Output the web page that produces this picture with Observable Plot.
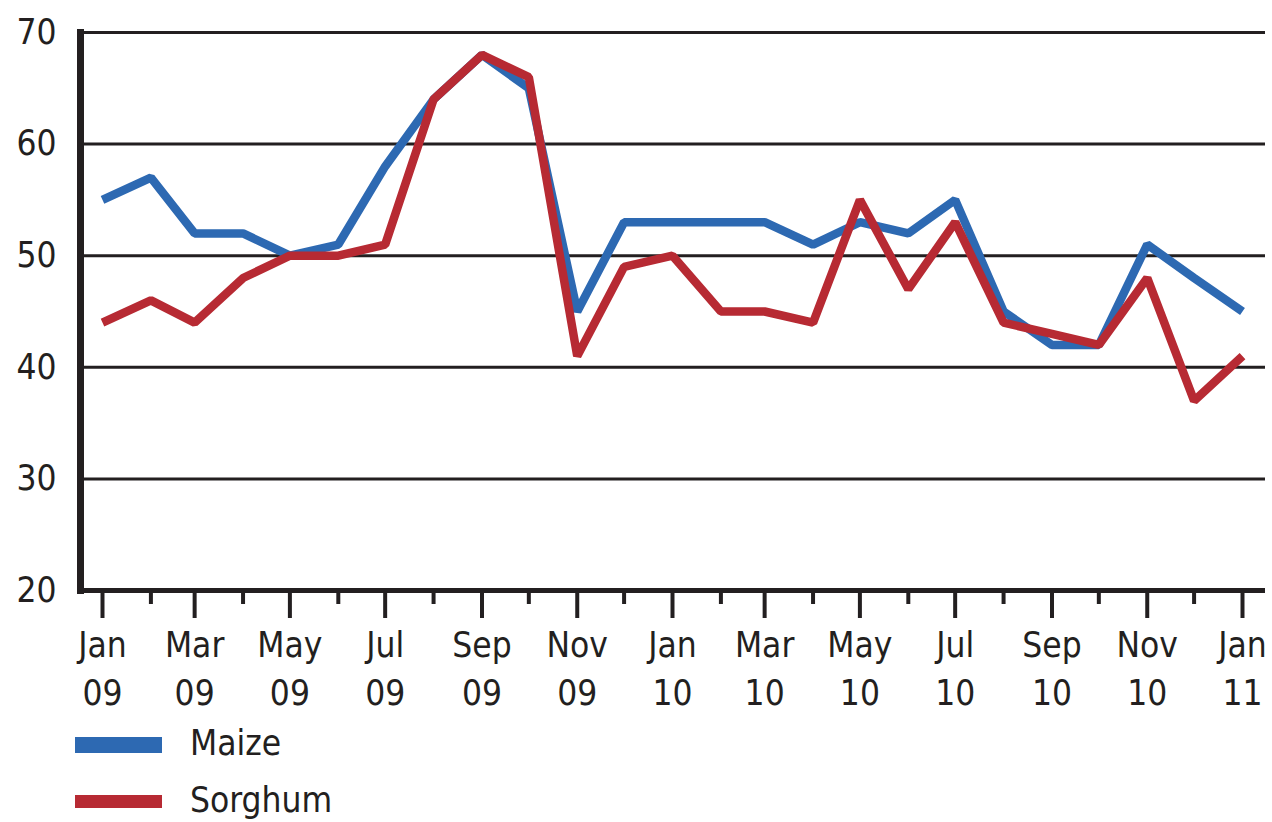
<!DOCTYPE html>
<html>
<head>
<meta charset="utf-8">
<script src="https://cdn.jsdelivr.net/npm/d3@7"></script>
<script src="https://cdn.jsdelivr.net/npm/@observablehq/plot@0.6"></script>
<style>
  html, body { margin: 0; padding: 0; background: #fff; }
  body { width: 1272px; height: 822px; overflow: hidden; font-family: "Liberation Sans Narrow", "DejaVu Sans Condensed", "Open Sans", sans-serif; }
  #chart svg { display: block; }
  .legend { position: relative; margin-top: 0; }
  .legend .item { display: flex; align-items: center; height: 57px; }
  .legend .sw { width: 87px; height: 16px; margin-left: 75px; margin-right: 28px; }
  .legend .lab { font-size: 35px; color: #231f20; position: relative; top: -2px; }
</style>
</head>
<body>
<div id="chart"></div>
<div class="legend" id="legend"></div>
<script>
const months = ["2009-01","2009-02","2009-03","2009-04","2009-05","2009-06","2009-07","2009-08","2009-09","2009-10","2009-11","2009-12",
                "2010-01","2010-02","2010-03","2010-04","2010-05","2010-06","2010-07","2010-08","2010-09","2010-10","2010-11","2010-12","2011-01"];
const maize   = [55, 57, 52, 52, 50, 51, 58, 64, 68, 65, 45, 53, 53, 53, 53, 51, 53, 52, 55, 45, 42, 42, 51, 48, 45];
const sorghum = [44, 46, 44, 48, 50, 50, 51, 64, 68, 66, 41, 49, 50, 45, 45, 44, 55, 47, 53, 44, 43, 42, 48, 37, 41];
const yTicks = [20, 30, 40, 50, 60, 70];
const seriesNames = ["Maize", "Sorghum"];
const seriesColors = ["#2d69b2", "#b72a33"];

const parse = d3.utcParse("%Y-%m");
const dates = months.map(parse);
const data = [];
dates.forEach((d, i) => {
  data.push({date: d, value: maize[i], series: "Maize"});
  data.push({date: d, value: sorghum[i], series: "Sorghum"});
});
const majorTicks = dates.filter((d, i) => i % 2 === 0);
const minorTicks = dates.filter((d, i) => i % 2 === 1);
const fmt = d => d3.utcFormat("%b")(d) + "\n" + d3.utcFormat("%y")(d);

const chart = Plot.plot({
  width: 1272,
  height: 716,
  marginLeft: 80,
  marginRight: 7,
  marginTop: 32,
  marginBottom: 126,
  style: {fontFamily: '"Liberation Sans Narrow", "DejaVu Sans Condensed", sans-serif', fontSize: "34px", color: "#231f20", background: "#fff"},
  x: {type: "utc", domain: [dates[0], dates[dates.length - 1]], insetLeft: 22, insetRight: 23},
  y: {domain: [20, 70]},
  color: {domain: seriesNames, range: seriesColors},
  marks: [
    Plot.ruleY(yTicks.filter(v => v > 20), {stroke: "#231f20", strokeWidth: 3}),
    Plot.axisY({ticks: yTicks, tickSize: 0, tickPadding: 24, label: null, fontSize: 35, fill: "#231f20"}),
    Plot.axisX({ticks: majorTicks, tickSize: 28, tickPadding: 4, tickFormat: fmt, label: null, fontSize: 35, lineHeight: 1.38, strokeWidth: 4, stroke: "#231f20", fill: "#231f20"}),
    Plot.axisX({ticks: minorTicks, tickSize: 14, tickFormat: () => "", label: null, strokeWidth: 4, stroke: "#231f20"}),
    Plot.line(data, {x: "date", y: "value", z: "series", stroke: "series", strokeWidth: 8.5, strokeLinejoin: "miter", strokeLinecap: "butt"}),
    Plot.ruleY([20], {stroke: "#231f20", strokeWidth: 5}),
    Plot.frame({anchor: "left", stroke: "#231f20", strokeWidth: 7})
  ]
});
document.getElementById("chart").appendChild(chart);

const legend = document.getElementById("legend");
seriesNames.forEach((n, i) => {
  const item = document.createElement("div");
  item.className = "item";
  const sw = document.createElement("div");
  sw.className = "sw";
  sw.style.background = seriesColors[i];
  if (i === 1) sw.style.height = "13px";
  const lab = document.createElement("span");
  lab.className = "lab";
  lab.textContent = n;
  item.appendChild(sw);
  item.appendChild(lab);
  legend.appendChild(item);
});
</script>
</body>
</html>
